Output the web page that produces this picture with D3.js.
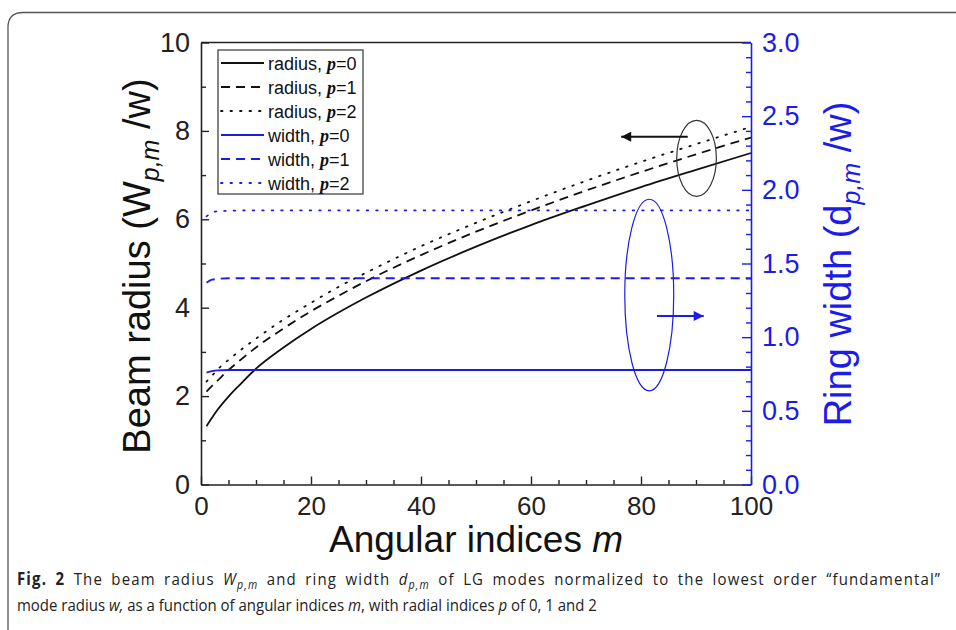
<!DOCTYPE html>
<html>
<head>
<meta charset="utf-8">
<script src="https://cdn.jsdelivr.net/npm/d3@7"></script>
<style>
  body { margin: 0; background: #fff; }
  svg { display: block; font-family: "Liberation Sans", Arial, sans-serif; }
  .legend-label { font-size: 18px; fill: #111; }
</style>
</head>
<body>
<div id="wrapper"></div>
<script>
// values
const mValues = [1, 2, 3, 5, 7, 10, 15, 20, 25, 30, 40, 50, 60, 70, 80, 90, 100]
const radiusP0 = [1.32, 1.51, 1.69, 1.99, 2.25, 2.62, 3.1, 3.52, 3.89, 4.23, 4.84, 5.38, 5.87, 6.31, 6.73, 7.12, 7.5]
const radiusP1 = [2.1, 2.23, 2.35, 2.59, 2.8, 3.1, 3.53, 3.92, 4.27, 4.6, 5.19, 5.72, 6.2, 6.65, 7.07, 7.47, 7.85]
const radiusP2 = [2.33, 2.46, 2.6, 2.82, 3.02, 3.3, 3.73, 4.11, 4.47, 4.79, 5.39, 5.92, 6.41, 6.87, 7.3, 7.7, 8.09]
const widthP0 = [0.76, 0.77, 0.775, 0.777, 0.777, 0.777, 0.777, 0.777, 0.777, 0.777, 0.777, 0.777, 0.777, 0.777, 0.777, 0.777, 0.777]
const widthP1 = [1.37, 1.39, 1.395, 1.4, 1.4, 1.4, 1.4, 1.4, 1.4, 1.4, 1.4, 1.4, 1.4, 1.4, 1.4, 1.4, 1.4]
const widthP2 = [1.82, 1.845, 1.855, 1.858, 1.86, 1.86, 1.86, 1.86, 1.86, 1.86, 1.86, 1.86, 1.86, 1.86, 1.86, 1.86, 1.86]

const xTicks = [0, 20, 40, 60, 80, 100]
const leftTicks = [0, 2, 4, 6, 8, 10]
const rightTicks = [0, 0.5, 1, 1.5, 2, 2.5, 3]
const legendLabels = ['radius, ', 'radius, ', 'radius, ', 'width, ', 'width, ', 'width, ']
const legendP = ['0', '1', '2', '0', '1', '2']

async function drawChart() {
  const blue = '#1c1ce8'
  const dashes = { solid: null, dash: '9,6', dot: '1.5,8' }

  const series = [
    { values: radiusP0, axis: 'left', color: '#111', dash: dashes.solid },
    { values: radiusP1, axis: 'left', color: '#111', dash: dashes.dash },
    { values: radiusP2, axis: 'left', color: '#111', dash: dashes.dot },
    { values: widthP0, axis: 'right', color: blue, dash: dashes.solid },
    { values: widthP1, axis: 'right', color: blue, dash: dashes.dash },
    { values: widthP2, axis: 'right', color: blue, dash: dashes.dot },
  ]

  //2. Create chart dimensions
  let dimensions = {
    width: 956,
    height: 630,
    margin: { top: 42.5, right: 205, bottom: 145.5, left: 201 },
  }
  dimensions.boundedWidth = dimensions.width
    - dimensions.margin.left - dimensions.margin.right
  dimensions.boundedHeight = dimensions.height
    - dimensions.margin.top - dimensions.margin.bottom

  //3. Draw canvas
  const wrapper = d3.select('#wrapper')
    .append('svg')
    .attr('width', dimensions.width)
    .attr('height', dimensions.height)

  // page frame with rounded corner
  wrapper.append('path')
    .attr('d', 'M8,630 L8,27 Q8,12.5 23,12.5 L956,12.5')
    .attr('fill', 'none')
    .attr('stroke', '#555')
    .attr('stroke-width', 1.3)

  const bounds = wrapper.append('g')
    .attr('transform', `translate(${dimensions.margin.left},${dimensions.margin.top})`)

  //4. Create scales
  const xScale = d3.scaleLinear()
    .domain([0, 100])
    .range([0, dimensions.boundedWidth])
  const yLeft = d3.scaleLinear()
    .domain([0, 10])
    .range([dimensions.boundedHeight, 0])
  const yRight = d3.scaleLinear()
    .domain([0, 3])
    .range([dimensions.boundedHeight, 0])

  //5. Draw data
  series.forEach(s => {
    const yScale = s.axis === 'left' ? yLeft : yRight
    const lineGenerator = d3.line()
      .x((d, i) => xScale(mValues[i]))
      .y(d => yScale(d))
      .curve(d3.curveMonotoneX)
    bounds.append('path')
      .attr('d', lineGenerator(s.values))
      .attr('fill', 'none')
      .attr('stroke', s.color)
      .attr('stroke-width', 1.8)
      .attr('stroke-dasharray', s.dash)
      .attr('stroke-linecap', s.dash === dashes.dot ? 'round' : 'butt')
  })

  // ellipses and arrows pointing to the axes
  bounds.append('ellipse')
    .attr('cx', xScale(90.1))
    .attr('cy', yLeft(7.38))
    .attr('rx', xScale(3.6))
    .attr('ry', yLeft(0) - yLeft(0.86))
    .attr('fill', 'none')
    .attr('stroke', '#333')
    .attr('stroke-width', 1.2)
  bounds.append('ellipse')
    .attr('cx', xScale(81.5))
    .attr('cy', yRight(1.286))
    .attr('rx', xScale(4.45))
    .attr('ry', yRight(0) - yRight(0.65))
    .attr('fill', 'none')
    .attr('stroke', blue)
    .attr('stroke-width', 1.2)

  const defs = wrapper.append('defs')
  const addHead = (id, color) => defs.append('marker')
    .attr('id', id)
    .attr('viewBox', '0 0 10 10')
    .attr('refX', 10).attr('refY', 5)
    .attr('markerUnits', 'userSpaceOnUse')
    .attr('markerWidth', 21).attr('markerHeight', 10)
    .attr('orient', 'auto')
    .append('path')
    .attr('d', 'M0,0 L10,5 L0,10 Z')
    .attr('fill', color)
  addHead('head-black', '#111')
  addHead('head-blue', blue)

  bounds.append('line')
    .attr('x1', xScale(88.5)).attr('x2', xScale(76.4))
    .attr('y1', yLeft(7.87)).attr('y2', yLeft(7.87))
    .attr('stroke', '#111').attr('stroke-width', 2)
    .attr('marker-end', 'url(#head-black)')
  bounds.append('line')
    .attr('x1', xScale(82.9)).attr('x2', xScale(91.4))
    .attr('y1', yRight(1.144)).attr('y2', yRight(1.144))
    .attr('stroke', blue).attr('stroke-width', 2)
    .attr('marker-end', 'url(#head-blue)')

  //6. Draw peripherals
  const styleAxis = (g, color, size) => {
    g.selectAll('path').attr('stroke', color).attr('stroke-width', 1.6)
    g.selectAll('line').attr('stroke', color).attr('stroke-width', 1.4)
    g.selectAll('text')
      .attr('fill', color)
      .style('font-size', size)
      .style('font-family', '"Liberation Sans", Arial, sans-serif')
  }

  // top border
  bounds.append('line')
    .attr('x1', 0).attr('x2', dimensions.boundedWidth)
    .attr('stroke', '#222').attr('stroke-width', 1.6)

  // minor ticks
  const xMinor = d3.range(0, 101, 5).filter(v => v % 20 !== 0)
  const leftMinor = [1, 3, 5, 7, 9]
  const rightMinor = d3.range(1, 30).map(v => v / 10).filter((v, i) => (i + 1) % 5 !== 0)

  const xAxis = bounds.append('g')
    .attr('transform', `translate(0,${dimensions.boundedHeight})`)
    .call(d3.axisBottom(xScale).tickValues(xTicks)
      .tickSizeInner(-8).tickSizeOuter(0).tickPadding(12))
  xAxis.append('g')
    .call(d3.axisBottom(xScale).tickValues(xMinor).tickFormat('')
      .tickSizeInner(-4.5).tickSizeOuter(0))
    .select('.domain').remove()
  styleAxis(xAxis, '#222', '26px')

  const leftAxis = bounds.append('g')
    .call(d3.axisLeft(yLeft).tickValues(leftTicks)
      .tickSizeInner(-8).tickSizeOuter(0).tickPadding(11))
  leftAxis.append('g')
    .call(d3.axisLeft(yLeft).tickValues(leftMinor).tickFormat('')
      .tickSizeInner(-5).tickSizeOuter(0))
    .select('.domain').remove()
  styleAxis(leftAxis, '#222', '27px')

  const rightAxis = bounds.append('g')
    .attr('transform', `translate(${dimensions.boundedWidth},0)`)
    .call(d3.axisRight(yRight).tickValues(rightTicks).tickFormat(d3.format('.1f'))
      .tickSizeInner(-9).tickSizeOuter(0).tickPadding(11))
  rightAxis.append('g')
    .call(d3.axisRight(yRight).tickValues(rightMinor).tickFormat('')
      .tickSizeInner(-5).tickSizeOuter(0))
    .select('.domain').remove()
  styleAxis(rightAxis, blue, '27px')

  // axis titles
  const xTitle = wrapper.append('text')
    .attr('x', dimensions.margin.left + dimensions.boundedWidth / 2)
    .attr('y', 552)
    .attr('text-anchor', 'middle')
    .style('font-size', '37px')
    .attr('fill', '#111')
  xTitle.append('tspan').text('Angular indices ')
  xTitle.append('tspan').style('font-style', 'italic').text('m')

  const addRotatedTitle = (x, y, main, sub, color) => {
    const t = wrapper.append('text')
      .attr('transform', `translate(${x},${y}) rotate(-90)`)
      .attr('text-anchor', 'middle')
      .style('font-size', '38px')
      .attr('fill', color)
    t.append('tspan').text(main)
    t.append('tspan').attr('dy', 9).style('font-size', '25px')
      .style('font-style', 'italic').text(sub)
    t.append('tspan').attr('dy', -9).text(' /w)')
  }
  addRotatedTitle(150, 266, 'Beam radius (W', 'p,m', '#111')
  addRotatedTitle(851, 264, 'Ring width (d', 'p,m', blue)

  // Legend
  const legendGroup = wrapper.append('g')
    .attr('transform', 'translate(218,50)')
  legendGroup.append('rect')
    .attr('width', 145)
    .attr('height', 144)
    .attr('fill', '#fff')
    .attr('stroke', '#444')
    .attr('stroke-width', 1.3)
  const rows = legendGroup.selectAll('.legend-row')
    .data(series)
    .enter()
    .append('g')
    .attr('class', 'legend-row')
    .attr('transform', (d, i) => `translate(0,${13 + i * 24})`)
  rows.append('line')
    .attr('x1', 3).attr('x2', 46)
    .attr('stroke', d => d.color)
    .attr('stroke-width', 1.8)
    .attr('stroke-dasharray', d => d.dash)
    .attr('stroke-linecap', d => d.dash === dashes.dot ? 'round' : 'butt')
  const labels = rows.append('text')
    .attr('class', 'legend-label')
    .attr('x', 50)
    .attr('y', 6.5)
  labels.append('tspan').text((d, i) => legendLabels[i])
  labels.append('tspan')
    .style('font-family', '"Liberation Serif", "Times New Roman", serif')
    .style('font-style', 'italic')
    .style('font-weight', 'bold')
    .text('p')
  labels.append('tspan').text((d, i) => '=' + legendP[i])

  // caption: condensed face, first line justified to the full width
  const caption = wrapper.append('g')
  const captionStyle = t => t
    .style('font-family', '"Open Sans", sans-serif')
    .style('font-size', '17px')
    .attr('fill', '#222')
  const piece = (t, txt, style) => {
    const s = t.append('tspan').text(txt)
    if (style === 'b') s.style('font-weight', 'bold')
    if (style === 'i') s.style('font-style', 'italic')
    if (style === 'sub') s.style('font-style', 'italic').style('font-size', '12px').attr('dy', 4)
    if (style === 'up') s.attr('dy', -4)
    return s
  }
  const cap1 = caption.append('text').attr('x', 0).attr('y', 0).call(captionStyle)
  piece(cap1, 'Fig. 2', 'b')
  piece(cap1, '  The beam radius ')
  piece(cap1, 'W', 'i')
  piece(cap1, 'p,m', 'sub')
  piece(cap1, ' and ring width ', 'up')
  piece(cap1, 'd', 'i')
  piece(cap1, 'p,m', 'sub')
  piece(cap1, ' of LG modes normalized to the lowest order \u201cfundamental\u201d', 'up')

  const cap2 = caption.append('text').attr('x', 0).attr('y', 26).call(captionStyle)
  piece(cap2, 'mode radius ')
  piece(cap2, 'w,', 'i')
  piece(cap2, ' as a function of angular indices ')
  piece(cap2, 'm', 'i')
  piece(cap2, ', with radial indices ')
  piece(cap2, 'p', 'i')
  piece(cap2, ' of 0, 1 and 2')

  // spread the first line partly by letters, partly by words
  const squeeze = 580 / cap2.node().getComputedTextLength()
  const text1 = cap1.text()
  const spaces = (text1.match(/ /g) || []).length
  const extra = Math.max(0, 929 / squeeze - cap1.node().getComputedTextLength())
  cap1.style('letter-spacing', `${extra * 0.65 / text1.length}px`)
    .style('word-spacing', `${extra * 0.35 / spaces}px`)
  caption.attr('transform', `translate(17,585) scale(${squeeze},1)`)
}

drawChart();
</script>
</body>
</html>
